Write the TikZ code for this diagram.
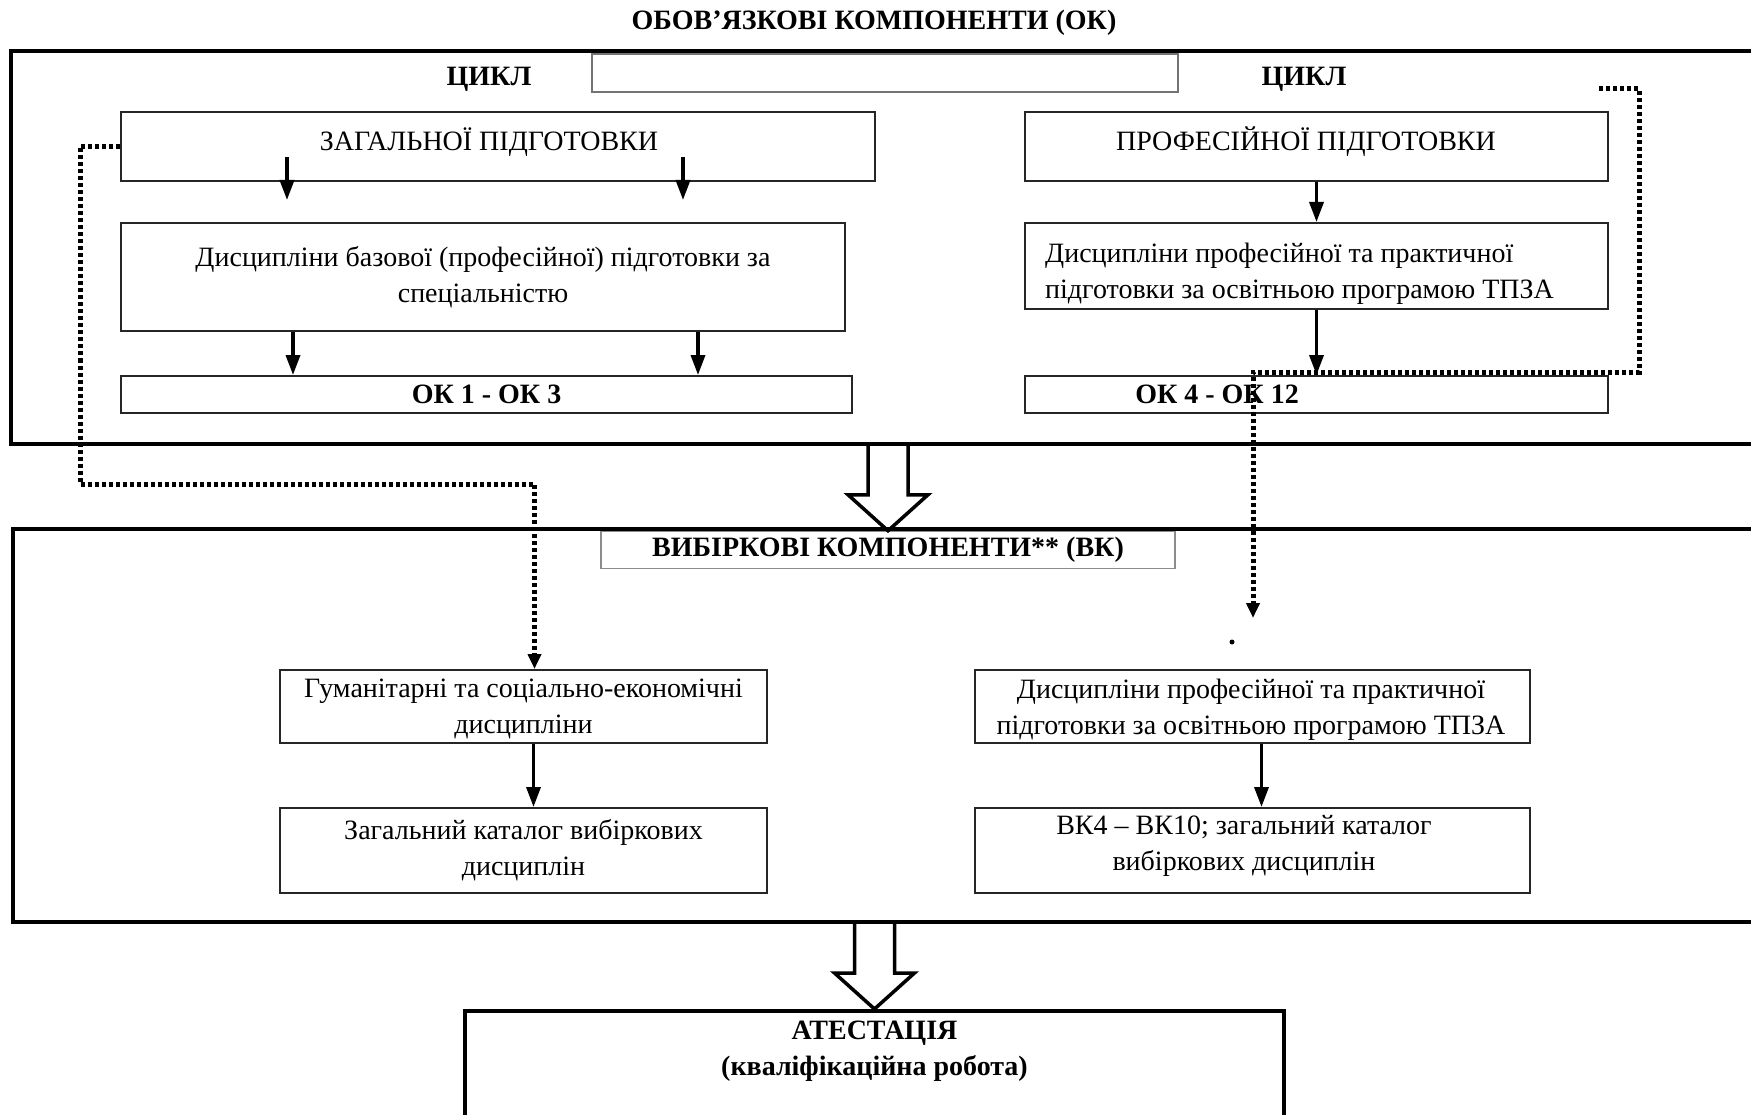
\documentclass[tikz,border=0pt]{standalone}
\usepackage{fontspec}
\setmainfont{Liberation Serif}
\usetikzlibrary{arrows.meta,calc}
\tikzset{
	box/.style={draw=black!85, line width=2pt, inner sep=0pt, align=center, font=\fontsize{28}{36}\selectfont},
	frame/.style={draw=black, line width=4pt, inner sep=0pt},
	tagbox/.style={draw=black!45, line width=1.5pt, inner sep=0pt, font=\fontsize{28}{36}\selectfont\bfseries},
	txt/.style={inner sep=0pt, align=center, font=\fontsize{28}{36}\selectfont},
	head/.style={inner sep=0pt, align=center, font=\fontsize{28}{36}\selectfont\bfseries},
	arr/.style={line width=3.5pt, -{Triangle[width=14pt,length=20pt]}},
	dotarr/.style={line width=5pt, dash pattern=on 4pt off 3pt, -{Triangle[width=13pt,length=15pt]}},
	fatarr/.style={line width=3.5pt, line join=miter}
}
\def\fatarrow(#1)(#2){\draw[fatarr] let \p1=(#1), \p2=(#2) in (\x2-20pt,\y1) -- (\x2-20pt,\y2+36pt) -- (\x2-40pt,\y2+36pt) -- (\x2,\y2) -- (\x2+40pt,\y2+36pt) -- (\x2+20pt,\y2+36pt) -- (\x2+20pt,\y1);}

\begin{document}
\begin{tikzpicture}[x=1pt,y=-1pt]
	%%%%% START %%%%%
	\useasboundingbox (0,0) rectangle (1751,1115);
	
	\node[head] (title) at (874,23) {ОБОВ’ЯЗКОВІ КОМПОНЕНТИ (ОК)};
	
	\node[frame, minimum width=1749, minimum height=393] (obov) at (885.5,247.5) {};
	\node[tagbox, draw=black!55, minimum width=586, minimum height=38] (blank) at (885,73) {};
	\node[head] (cycle1) at (489,79) {ЦИКЛ};
	\node[head] (cycle2) at (1304,79) {ЦИКЛ};
	
	\node[box, minimum width=754, minimum height=69] (zag) at (498,146.5) {};
	\node[txt] (zagt) at (489,142) {ЗАГАЛЬНОЇ ПІДГОТОВКИ};
	\node[box, minimum width=724, minimum height=108] (disc1) at (483,277) {Дисципліни базової (професійної) підготовки за\\спеціальністю};
	\node[box, font=\fontsize{28}{36}\selectfont\bfseries, minimum width=731, minimum height=37] (ok1) at (486.5,394.5) {ОК 1 - ОК 3};
	
	\node[box, minimum width=583, minimum height=69] (prof) at (1316.5,146.5) {};
	\node[txt] (proft) at (1306,142) {ПРОФЕСІЙНОЇ ПІДГОТОВКИ};
	\node[box, minimum width=583, minimum height=86] (disc2) at (1316.5,266) {};
	\node[txt, align=left, anchor=west] (disc2t) at (1045,274) {Дисципліни професійної та практичної\\підготовки за освітньою програмою ТПЗА};
	\node[box, minimum width=583, minimum height=37] (ok2) at (1316.5,394.5) {};
	\node[head] (ok2t) at (1217,394) {ОК 4 - ОК 12};
	
	\draw[arr] ([xshift=-211pt,yshift=25pt]zag.south) -- ([xshift=-196pt,yshift=22pt]disc1.north);
	\draw[arr] ([xshift=185pt,yshift=25pt]zag.south) -- ([xshift=200pt,yshift=22pt]disc1.north);
	\draw[arr] ([xshift=-190pt]disc1.south) -- ([xshift=-193.5pt]ok1.north);
	\draw[arr] ([xshift=215pt]disc1.south) -- ([xshift=211.5pt]ok1.north);
	\draw[arr] (prof.south) -- (disc2.north);
	\draw[arr] (disc2.south) -- (ok2.north);
	
	\node[frame, minimum width=1747, minimum height=393] (vyb) at (886.5,725.5) {};
	\node[tagbox, minimum width=574, minimum height=37] (vkl) at (888,550) {ВИБІРКОВІ КОМПОНЕНТИ** (ВК)};
	
	\node[box, minimum width=487, minimum height=73] (hum) at (523.5,706.5) {};
	\node[txt] (humt) at (523.5,709) {Гуманітарні та соціально-економічні\\дисципліни};
	\node[box, minimum width=487, minimum height=85] (cat1) at (523.5,850.5) {Загальний каталог вибіркових\\дисциплін};
	\node[box, minimum width=555, minimum height=73] (disc3) at (1252.5,706.5) {};
	\node[txt] (disc3t) at (1251,710) {Дисципліни професійної та практичної\\підготовки за освітньою програмою ТПЗА};
	\node[box, minimum width=555, minimum height=85] (cat2) at (1252.5,850.5) {};
	\node[txt] (cat2t) at (1244,846) {ВК4 – ВК10; загальний каталог\\вибіркових дисциплін};
	
	\draw[arr] ([xshift=10pt]hum.south) -- ([xshift=10pt]cat1.north);
	\draw[arr] ([xshift=9pt]disc3.south) -- ([xshift=9pt]cat2.north);
	
	\node[frame, minimum width=819, minimum height=130] (atest) at (874.5,1076) {};
	\node[head] (atestt) at (874.5,1051) {АТЕСТАЦІЯ\\(кваліфікаційна робота)};
	
	\fatarrow(obov.south)(vkl.north)
	\fatarrow(vyb.south)(atest.north)
	
	% dotted links
	\coordinate (dl) at (80,484);
	\draw[dotarr] (zag.west) -| (dl) -| ($(hum.north)+(11,0)$);
	\coordinate (dr0) at (1599,89);
	\coordinate (dr1) at (1639,372);
	\coordinate (dr2) at (1253,618);
	\draw[dotarr] (dr0) -| (dr1) -| (dr2);
	\fill (1232,642) circle (2.5);
	
	%%%%% END %%%%%
\end{tikzpicture}
\end{document}
